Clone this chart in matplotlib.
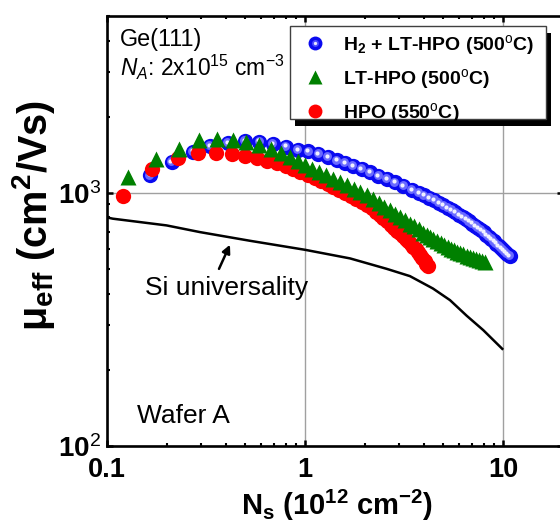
import matplotlib
matplotlib.use("Agg")
import matplotlib.pyplot as plt
import matplotlib.transforms as mtransforms
from matplotlib.patches import Rectangle
from matplotlib.lines import Line2D
from matplotlib.legend_handler import HandlerTuple
from matplotlib.ticker import FixedLocator, FixedFormatter, LogLocator, NullFormatter

plt.rcParams['font.family'] = ['Liberation Sans', 'DejaVu Sans']
plt.rcParams['mathtext.fontset'] = 'custom'
plt.rcParams['mathtext.rm'] = 'Liberation Sans'
plt.rcParams['mathtext.it'] = 'Liberation Sans:italic'
plt.rcParams['mathtext.bf'] = 'Liberation Sans:bold'

# H2 + LT-HPO (500C)
ns_h2 = [0.165, 0.212, 0.271, 0.331, 0.410, 0.498, 0.588, 0.687, 0.799, 0.925,
         1.04, 1.17, 1.31, 1.45, 1.59, 1.75, 1.93, 2.13, 2.35, 2.59,
         2.85, 3.14, 3.46, 3.75, 4.00, 4.25, 4.50, 4.75, 5.00, 5.25,
         5.50, 5.75, 6.00, 6.25, 6.50, 6.75, 7.00, 7.25, 7.50, 7.75,
         8.00, 8.25, 8.50, 8.75, 9.00, 9.25, 9.50, 9.75, 10.00, 10.25,
         10.50, 10.80]
mu_h2 = [1173, 1324, 1457, 1535, 1574, 1605, 1596, 1563, 1524, 1482,
         1458, 1422, 1384, 1345, 1312, 1275, 1240, 1205, 1170, 1135,
         1100, 1065, 1030, 1000, 978, 955, 935, 913, 893, 873,
         855, 837, 820, 803, 787, 772, 757, 742, 727, 712,
         698, 684, 670, 656, 643, 631, 619, 607, 596, 586,
         575, 563]

# LT-HPO (500C)
ns_lt = [0.128, 0.177, 0.231, 0.292, 0.358, 0.431, 0.502, 0.586, 0.671, 0.754,
         0.840, 0.92, 1.00, 1.09, 1.18, 1.28, 1.39, 1.51, 1.63, 1.76,
         1.90, 2.05, 2.20, 2.36, 2.52, 2.69, 2.86, 3.02, 3.20, 3.38,
         3.56, 3.75, 3.95, 4.15, 4.30, 4.45, 4.65, 4.85, 5.05, 5.25,
         5.45, 5.65, 5.85, 6.05, 6.30, 6.55, 6.80, 7.05, 7.30, 7.55,
         7.80, 8.10]
mu_lt = [1153, 1363, 1489, 1616, 1640, 1625, 1596, 1550, 1489, 1443,
         1392, 1335, 1285, 1245, 1209, 1174, 1138, 1103, 1071, 1040,
         1008, 977, 945, 913, 883, 855, 827, 802, 779, 757,
         737, 717, 697, 680, 669, 659, 646, 634, 623, 613,
         603, 594, 586, 579, 571, 565, 558, 552, 546, 541,
         537, 533]

# HPO (550C)
ns_hpo = [0.121, 0.168, 0.228, 0.289, 0.355, 0.426, 0.497, 0.570, 0.641, 0.719,
          0.799, 0.873, 0.943, 1.03, 1.12, 1.21, 1.30, 1.39, 1.49, 1.59,
          1.70, 1.81, 1.93, 2.05, 2.17, 2.29, 2.40, 2.49, 2.60, 2.71,
          2.82, 2.92, 3.02, 3.12, 3.22, 3.32, 3.42, 3.52, 3.62, 3.72,
          3.82, 3.92, 4.02, 4.10, 4.19]
mu_hpo = [969, 1247, 1380, 1436, 1443, 1423, 1402, 1372, 1341, 1311,
          1279, 1241, 1214, 1180, 1145, 1115, 1087, 1059, 1030, 1003,
          975, 948, 921, 896, 868, 842, 818, 794, 772, 750,
          729, 710, 692, 675, 659, 643, 627, 612, 600, 586,
          569, 553, 537, 524, 512]

# Si universal mobility curve
ns_si = [0.1, 0.107, 0.2, 0.295, 0.527, 1.0, 1.69, 2.59, 3.39, 4.43, 5.40, 6.56, 7.95, 9.92]
mu_si = [800, 791, 744, 700, 647, 596, 551, 501, 469, 419, 377, 327, 287, 242]

x_ticks = [0.1, 1, 10]
x_tick_labels = ['0.1', '1', '10']
y_ticks = [100, 1000]
y_tick_labels = [r'$\mathbf{10}^{\mathrm{2}}$', r'$\mathbf{10}^{\mathrm{3}}$']

labels = [r'H$_{\mathbf{2}}$ + LT-HPO (500$^{\mathrm{o}}$C)',
          r'LT-HPO (500$^{\mathrm{o}}$C)',
          r'HPO (550$^{\mathrm{o}}$C)']

fig = plt.figure(figsize=(5.6, 5.28), dpi=100)
ax = fig.add_axes([0.191, 0.1553, 0.8136, 0.8144])
ax.set_xscale('log')
ax.set_yscale('log')
ax.set_xlim(0.1, 20)
ax.set_ylim(100, 5000)

# blue "sphere" markers: base + lighter core + highlight
blue_c = '#0a0af0'
ms_pt = 11
ax.plot(ns_h2, mu_h2, 'o', ms=ms_pt, color=blue_c, mec='none', zorder=3)
tr_mid = mtransforms.offset_copy(ax.transData, fig=fig, x=-0.8, y=0.8, units='dots')
tr_hi = mtransforms.offset_copy(ax.transData, fig=fig, x=-1.1, y=1.1, units='dots')
ax.plot(ns_h2, mu_h2, 'o', ms=6.4, color='#6a6aff', mec='none', transform=tr_mid, zorder=3)
ax.plot(ns_h2, mu_h2, 'o', ms=3.0, color='#f0f0ff', mec='none', transform=tr_hi, zorder=3)

ax.plot(ns_hpo, mu_hpo, 'o', ms=ms_pt, color='#ff0000', mec='none', zorder=3)
ax.plot(ns_lt, mu_lt, '^', ms=11, color='#008000', mec='none', zorder=3)

ax.plot(ns_si, mu_si, '-', color='black', lw=1.8, zorder=3)

ax.grid(True, which='major', color='#a0a0a0', lw=1.0)
ax.set_axisbelow(True)

ax.xaxis.set_major_locator(FixedLocator(x_ticks))
ax.xaxis.set_major_formatter(FixedFormatter(x_tick_labels))
ax.xaxis.set_minor_locator(LogLocator(base=10, subs=range(2, 10)))
ax.xaxis.set_minor_formatter(NullFormatter())
ax.yaxis.set_major_locator(FixedLocator(y_ticks))
ax.yaxis.set_major_formatter(FixedFormatter(y_tick_labels))
ax.yaxis.set_minor_locator(LogLocator(base=10, subs=range(2, 10)))
ax.yaxis.set_minor_formatter(NullFormatter())

ax.tick_params(which='both', direction='in', top=True, right=True)
ax.tick_params(which='major', length=4.5, width=1.8)
ax.tick_params(which='minor', length=2.5, width=1.5)
ax.tick_params(axis='x', which='major', pad=8, labelsize=19.5)
ax.tick_params(axis='y', which='major', pad=4, labelsize=20)
for lab in ax.get_xticklabels():
    lab.set_fontweight('bold')
for sp in ax.spines.values():
    sp.set_linewidth(1.9)

ax.set_xlabel(r'N$_{\mathbf{s}}$ (10$^{\mathbf{12}}$ cm$^{\mathbf{-2}}$)',
              fontsize=21, fontweight='bold')
ax.set_ylabel(r'μ$_{\mathbf{eff}}$ (cm$^{\mathbf{2}}$/Vs)',
              fontsize=28.5, fontweight='bold')
ax.xaxis.set_label_coords(0.506, -0.098)
ax.yaxis.set_label_coords(-0.11, 0.535)

ax.text(0.0285, 0.931, 'Ge(111)', transform=ax.transAxes, fontsize=16.8, va='baseline')
ax.text(0.0285, 0.860, r'$N_A$: 2x10$^{15}$ cm$^{-3}$', transform=ax.transAxes,
        fontsize=16.4, va='baseline')
ax.text(0.066, 0.0535, 'Wafer A', transform=ax.transAxes, fontsize=19, va='baseline')
ax.text(0.0834, 0.351, 'Si universality', transform=ax.transAxes, fontsize=19, va='baseline')
ax.annotate('', xy=(0.418, 624), xytext=(0.368, 501),
            arrowprops=dict(arrowstyle='-|>', color='black', lw=1.8, mutation_scale=12,
                            shrinkA=0, shrinkB=0))

# legend box with solid drop shadow
bx, by, bw, bh = 0.4017, 0.7605, 0.5619, 0.2162
ax.add_patch(Rectangle((bx + 0.011, by - 0.0163), bw, bh, transform=ax.transAxes,
                       facecolor='black', edgecolor='none', zorder=4, clip_on=False))
ax.add_patch(Rectangle((bx, by), bw, bh, transform=ax.transAxes, facecolor='white',
                       edgecolor='#404040', lw=1.0, zorder=4.1, clip_on=False))

h_blue = (Line2D([], [], ls='none', marker='o', ms=10, color=blue_c, mec='none'),
          Line2D([], [], ls='none', marker='o', ms=5.0, color='#4a4aff', mec='none'),
          Line2D([], [], ls='none', marker='o', ms=2.4, color='#e8e8ff', mec='none'))
h_green = Line2D([], [], ls='none', marker='^', ms=10.5, color='#008000', mec='none')
h_red = Line2D([], [], ls='none', marker='o', ms=10, color='#ff0000', mec='none')
leg = ax.legend([h_blue, h_green, h_red], labels, loc='upper left',
                bbox_to_anchor=(0.430, 0.960), frameon=False, borderpad=0,
                borderaxespad=0, handlelength=1.2, handletextpad=0.85,
                labelspacing=0.5, prop={'weight': 'bold', 'size': 14},
                handler_map={tuple: HandlerTuple(ndivide=1, pad=0)})
leg.set_zorder(5)

fig.savefig('out.png', dpi=100)
